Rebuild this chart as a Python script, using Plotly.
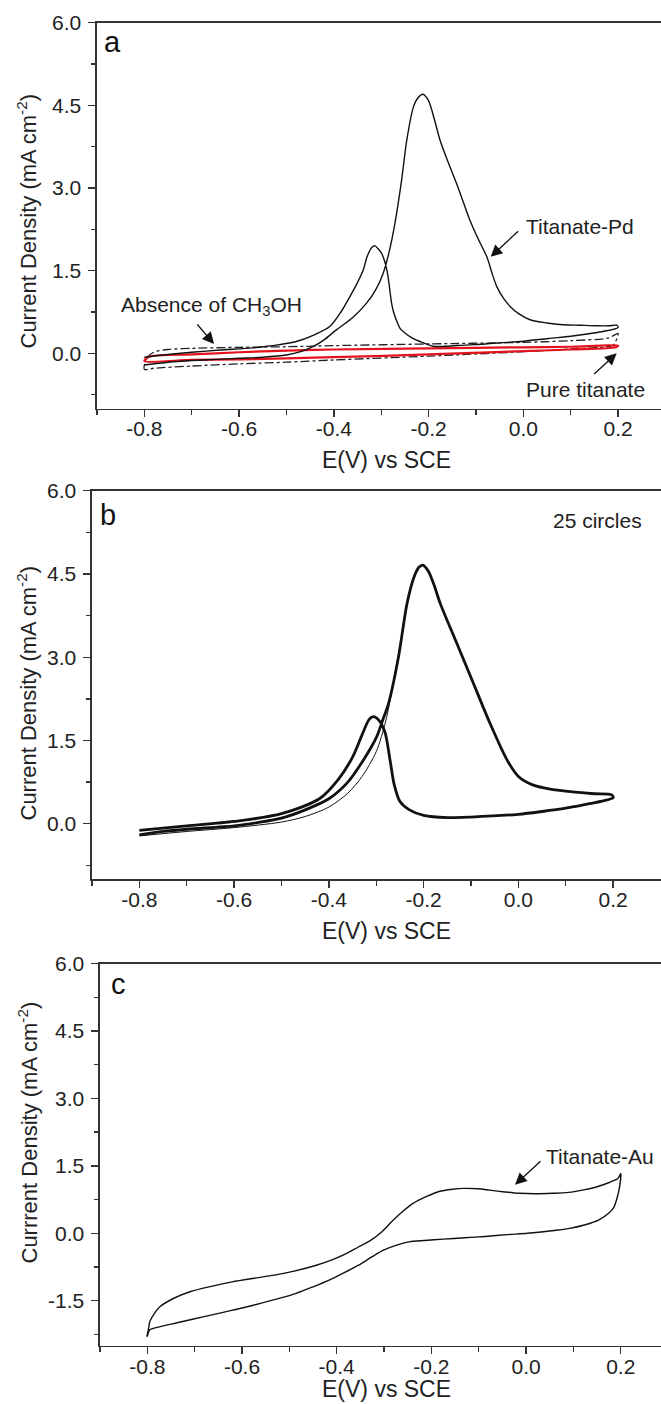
import plotly.graph_objects as go

# ---------------- data ----------------
# Panel a : Titanate-Pd (forward + reverse scan)
pd_v = [-0.80, -0.75, -0.70, -0.65, -0.60, -0.55, -0.50, -0.47, -0.44, -0.42, -0.394, -0.36, -0.331, -0.31,
        -0.296, -0.283, -0.271, -0.257, -0.246, -0.232, -0.222, -0.212, -0.200, -0.188, -0.176, -0.158,
        -0.141, -0.127, -0.113, -0.095, -0.077, -0.066, -0.056, -0.042, -0.028, -0.010, 0.014, 0.050,
        0.084, 0.120, 0.155, 0.180, 0.197,
        0.200, 0.170, 0.142, 0.100, 0.053, 0.000, -0.036, -0.080, -0.125, -0.160, -0.190, -0.214,
        -0.235, -0.250, -0.260, -0.268, -0.274, -0.278, -0.281, -0.288, -0.299, -0.307, -0.313, -0.320,
        -0.330, -0.338, -0.352, -0.366, -0.385, -0.408, -0.440, -0.481, -0.530, -0.571, -0.640, -0.700,
        -0.760, -0.800]
pd_j = [-0.21, -0.16, -0.13, -0.11, -0.09, -0.07, -0.03, 0.03, 0.14, 0.25, 0.43, 0.65, 0.91, 1.18,
        1.45, 1.85, 2.36, 3.14, 3.87, 4.47, 4.64, 4.70, 4.58, 4.25, 3.87, 3.45,
        3.08, 2.75, 2.42, 2.07, 1.75, 1.45, 1.21, 1.00, 0.85, 0.72, 0.61, 0.55,
        0.52, 0.51, 0.50, 0.50, 0.51,
        0.47, 0.40, 0.36, 0.31, 0.27, 0.22, 0.20, 0.17, 0.15, 0.13, 0.13, 0.20,
        0.28, 0.37, 0.45, 0.60, 0.75, 0.90, 1.09, 1.51, 1.81, 1.90, 1.95, 1.92,
        1.75, 1.51, 1.25, 1.03, 0.75, 0.49, 0.34, 0.21, 0.14, 0.10, 0.06, 0.02,
        -0.03, -0.07]

# Panel a : absence of CH3OH (dash-dot)
abs_v = [-0.800, -0.795, -0.780, -0.750, -0.700, -0.600, -0.500, -0.400, -0.200, 0.000, 0.100, 0.180, 0.200,
         0.195, 0.190, 0.100, 0.000, -0.200, -0.400, -0.500, -0.600, -0.700, -0.780, -0.800]
abs_j = [-0.29, -0.08, 0.02, 0.07, 0.09, 0.11, 0.12, 0.14, 0.17, 0.20, 0.23, 0.28, 0.36,
         0.22, 0.15, 0.08, 0.03, -0.05, -0.12, -0.16, -0.19, -0.23, -0.27, -0.29]

# Panel a : pure titanate (red)
pure_v = [-0.800, -0.790, -0.700, -0.600, -0.500, -0.400, -0.200, 0.000, 0.100, 0.200,
          0.195, 0.100, 0.000, -0.200, -0.400, -0.500, -0.600, -0.700, -0.800]
pure_j = [-0.14, -0.06, -0.02, 0.02, 0.05, 0.07, 0.09, 0.11, 0.12, 0.14,
          0.11, 0.07, 0.04, -0.02, -0.07, -0.09, -0.11, -0.12, -0.14]

# Panel b : 25 cycles (band of cycles 2-25) and first cycle forward rise
cyc_v = [-0.80, -0.75, -0.70, -0.60, -0.55, -0.50, -0.45, -0.40, -0.36, -0.327, -0.299, -0.285,
         -0.274, -0.253, -0.235, -0.220, -0.210, -0.2017, -0.190, -0.178, -0.165, -0.130, -0.095,
         -0.060, -0.024, 0.000, 0.030, 0.070, 0.120, 0.160, 0.197,
         0.200, 0.150, 0.100, 0.050, 0.000, -0.100, -0.150, -0.200, -0.230, -0.250, -0.262, -0.271,
         -0.281, -0.293, -0.306, -0.315, -0.330, -0.350, -0.380, -0.420, -0.500, -0.600, -0.700, -0.800]
cyc_j = [-0.20, -0.14, -0.10, -0.04, 0.02, 0.10, 0.25, 0.45, 0.75, 1.15, 1.57, 1.90,
         2.17, 3.01, 3.97, 4.45, 4.62, 4.66, 4.55, 4.30, 3.97, 3.25, 2.53,
         1.81, 1.15, 0.85, 0.70, 0.62, 0.57, 0.54, 0.52,
         0.47, 0.36, 0.28, 0.22, 0.17, 0.12, 0.11, 0.15, 0.25, 0.40, 0.70, 1.15,
         1.63, 1.85, 1.93, 1.88, 1.60, 1.20, 0.80, 0.45, 0.18, 0.04, -0.04, -0.12]
first_v = [-0.80, -0.70, -0.60, -0.50, -0.45, -0.40, -0.36, -0.33, -0.30, -0.28, -0.265, -0.25, -0.235]
first_j = [-0.22, -0.14, -0.07, 0.03, 0.13, 0.30, 0.55, 0.85, 1.30, 1.85, 2.50, 3.20, 3.95]

# Panel c : Titanate-Au
au_v = [-0.801, -0.797, -0.795, -0.785, -0.773, -0.745, -0.710, -0.665, -0.621, -0.575, -0.532, -0.490,
        -0.443, -0.410, -0.380, -0.355, -0.330, -0.305, -0.282, -0.260, -0.238, -0.210, -0.184, -0.155,
        -0.131, -0.100, -0.077, -0.045, -0.015, 0.020, 0.056, 0.090, 0.119, 0.145, 0.163, 0.180, 0.194, 0.200,
        0.197, 0.192, 0.186, 0.175, 0.154, 0.125, 0.092, 0.050, 0.003, -0.040, -0.086, -0.130, -0.175,
        -0.215, -0.247, -0.275, -0.300, -0.325, -0.354, -0.385, -0.416, -0.450, -0.487, -0.530, -0.576,
        -0.620, -0.666, -0.700, -0.737, -0.770, -0.795, -0.800]
au_j = [-2.30, -2.10, -1.97, -1.78, -1.63, -1.45, -1.30, -1.18, -1.08, -1.00, -0.93, -0.84,
        -0.71, -0.59, -0.45, -0.31, -0.17, 0.03, 0.28, 0.49, 0.67, 0.82, 0.93, 0.98,
        1.00, 0.99, 0.96, 0.92, 0.89, 0.88, 0.89, 0.91, 0.96, 1.02, 1.08, 1.15, 1.22, 1.33,
        1.00, 0.78, 0.59, 0.45, 0.30, 0.19, 0.11, 0.05, 0.00, -0.03, -0.07, -0.10, -0.13,
        -0.16, -0.19, -0.27, -0.37, -0.52, -0.71, -0.88, -1.04, -1.19, -1.34, -1.47, -1.60,
        -1.71, -1.82, -1.90, -1.99, -2.07, -2.15, -2.30]

# ticks
x_tick_vals = [-0.8, -0.6, -0.4, -0.2, 0.0, 0.2]
x_tick_text = ["-0.8", "-0.6", "-0.4", "-0.2", "0.0", "0.2"]
x_minor_vals = [-0.9, -0.7, -0.5, -0.3, -0.1, 0.1]
y_tick_vals_ab = [0.0, 1.5, 3.0, 4.5, 6.0]
y_tick_text_ab = ["0.0", "1.5", "3.0", "4.5", "6.0"]
y_minor_ab = [-0.75, 0.75, 2.25, 3.75, 5.25]
y_tick_vals_c = [-1.5, 0.0, 1.5, 3.0, 4.5, 6.0]
y_tick_text_c = ["-1.5", "0.0", "1.5", "3.0", "4.5", "6.0"]
y_minor_c = [-2.25, -0.75, 0.75, 2.25, 3.75, 5.25]

FONT = "Liberation Sans, Arial, sans-serif"
W, H = 661, 1404
SM = 0.8

# ---------------- figure ----------------
fig = go.Figure()
fig.add_trace(go.Scatter(x=abs_v, y=abs_j, mode="lines", xaxis="x", yaxis="y",
                         line=dict(color="#222", width=1.3, dash="dashdot", shape="spline", smoothing=SM)))
fig.add_trace(go.Scatter(x=pure_v, y=pure_j, mode="lines", xaxis="x", yaxis="y",
                         line=dict(color="#e3121c", width=2.2, shape="spline", smoothing=SM)))
fig.add_trace(go.Scatter(x=pd_v, y=pd_j, mode="lines", xaxis="x", yaxis="y",
                         line=dict(color="#111", width=1.4, shape="spline", smoothing=SM)))
fig.add_trace(go.Scatter(x=first_v, y=first_j, mode="lines", xaxis="x2", yaxis="y2",
                         line=dict(color="#111", width=1.0, shape="spline", smoothing=SM)))
fig.add_trace(go.Scatter(x=cyc_v, y=cyc_j, mode="lines", xaxis="x2", yaxis="y2",
                         line=dict(color="#111", width=2.8, shape="spline", smoothing=SM)))
fig.add_trace(go.Scatter(x=au_v, y=au_j, mode="lines", xaxis="x3", yaxis="y3",
                         line=dict(color="#111", width=1.4, shape="spline", smoothing=SM)))


def px_to_paper_y(py):
    return 1 - py / H


def xaxis(left_px, xmax, anchor):
    return dict(domain=[left_px / W, 1], range=[-0.9, xmax], anchor=anchor,
                showline=True, linecolor="#333", linewidth=1.6, mirror=True,
                ticks="outside", ticklen=7, tickwidth=1.4, tickcolor="#333",
                tickmode="array", tickvals=x_tick_vals, ticktext=x_tick_text,
                minor=dict(ticks="outside", ticklen=5, tickwidth=1.4, tickcolor="#333",
                           tickvals=x_minor_vals),
                showgrid=False, zeroline=False, ticklabelstandoff=-6,
                tickfont=dict(family=FONT, size=21, color="#222"))


def yaxis(top_px, bot_px, rng, tv, tt, mv, anchor):
    return dict(domain=[px_to_paper_y(bot_px), px_to_paper_y(top_px)], range=rng, anchor=anchor,
                showline=True, linecolor="#333", linewidth=1.6, mirror=False,
                ticks="outside", ticklen=7, tickwidth=1.4, tickcolor="#333",
                tickmode="array", tickvals=tv, ticktext=tt,
                minor=dict(ticks="outside", ticklen=4, tickwidth=1.4, tickcolor="#333", tickvals=mv),
                showgrid=False, zeroline=False, ticklabelstandoff=3,
                tickfont=dict(family=FONT, size=21, color="#222"))


fig.update_layout(
    template="none",
    width=W, height=H,
    margin=dict(l=0, r=0, t=0, b=0),
    paper_bgcolor="white", plot_bgcolor="white",
    showlegend=False,
    xaxis=xaxis(97, 0.2906, "y"),
    yaxis=yaxis(22.5, 408.5, [-1.0, 6.0], y_tick_vals_ab, y_tick_text_ab, y_minor_ab, "x"),
    xaxis2=xaxis(92, 0.301, "y2"),
    yaxis2=yaxis(490.7, 879.2, [-1.0, 6.0], y_tick_vals_ab, y_tick_text_ab, y_minor_ab, "x2"),
    xaxis3=xaxis(100, 0.285, "y3"),
    yaxis3=yaxis(963.6, 1345.7, [-2.5, 6.0], y_tick_vals_c, y_tick_text_c, y_minor_c, "x3"),
)

ann = []
# axis titles (bottom edge of text box in pixels)
for tb in [475.0, 946.0, 1404.0]:
    ann.append(dict(text="E(V) vs SCE", xref="paper", yref="paper", x=387 / W, y=px_to_paper_y(tb),
                    xanchor="center", yanchor="bottom", showarrow=False,
                    font=dict(family=FONT, size=23, color="#222")))
for ty, lab in [(221.5, "Current Density (mA cm<sup>-2</sup>)"),
                (693.5, "Current Density (mA cm<sup>-2</sup>)"),
                (1132.5, "Currrent Density (mA cm<sup>-2</sup>)")]:
    ann.append(dict(text=lab, xref="paper", yref="paper", x=27 / W, y=px_to_paper_y(ty),
                    xanchor="center", yanchor="middle", textangle=-90, showarrow=False,
                    font=dict(family=FONT, size=22, color="#222")))

# panel letters
for ax, xx, yy, letter in [("", -0.89, 5.65, "a"), ("2", -0.887, 5.57, "b"), ("3", -0.88, 5.54, "c")]:
    ann.append(dict(text=letter, xref="x" + ax, yref="y" + ax, x=xx, y=yy, xanchor="left",
                    yanchor="middle", showarrow=False, font=dict(family=FONT, size=29, color="#111")))

# labels
labels = [("", -0.659, 0.85, "Absence of CH<sub>3</sub>OH"),
          ("", 0.1186, 2.30, "Titanate-Pd"),
          ("", 0.131, -0.66, "Pure titanate"),
          ("2", 0.168, 5.47, "25 circles"),
          ("3", 0.1556, 1.71, "Titanate-Au")]
for ax, xx, yy, t in labels:
    ann.append(dict(text=t, xref="x" + ax, yref="y" + ax, x=xx, y=yy, xanchor="center",
                    yanchor="middle", showarrow=False, font=dict(family=FONT, size=21, color="#222")))

# arrows (head in data coords, tail offset in pixels)
arrows = [("", -0.653, 0.17, -18, -21),
          ("", -0.069, 1.75, 29, -27),
          ("", 0.197, 0.0, -24, 22),
          ("3", -0.0234, 1.08, 27, -25)]
for ax, xx, yy, dx, dy in arrows:
    ann.append(dict(text="", xref="x" + ax, yref="y" + ax, x=xx, y=yy, ax=dx, ay=dy,
                    axref="pixel", ayref="pixel", showarrow=True, arrowhead=2, arrowsize=1.8,
                    arrowwidth=1.3, arrowcolor="#111"))

fig.update_layout(annotations=ann)
fig.write_html("out.html", config={"displayModeBar": False, "staticPlot": True},
               post_script="document.body.style.margin='0px';document.body.style.overflow='hidden';")
